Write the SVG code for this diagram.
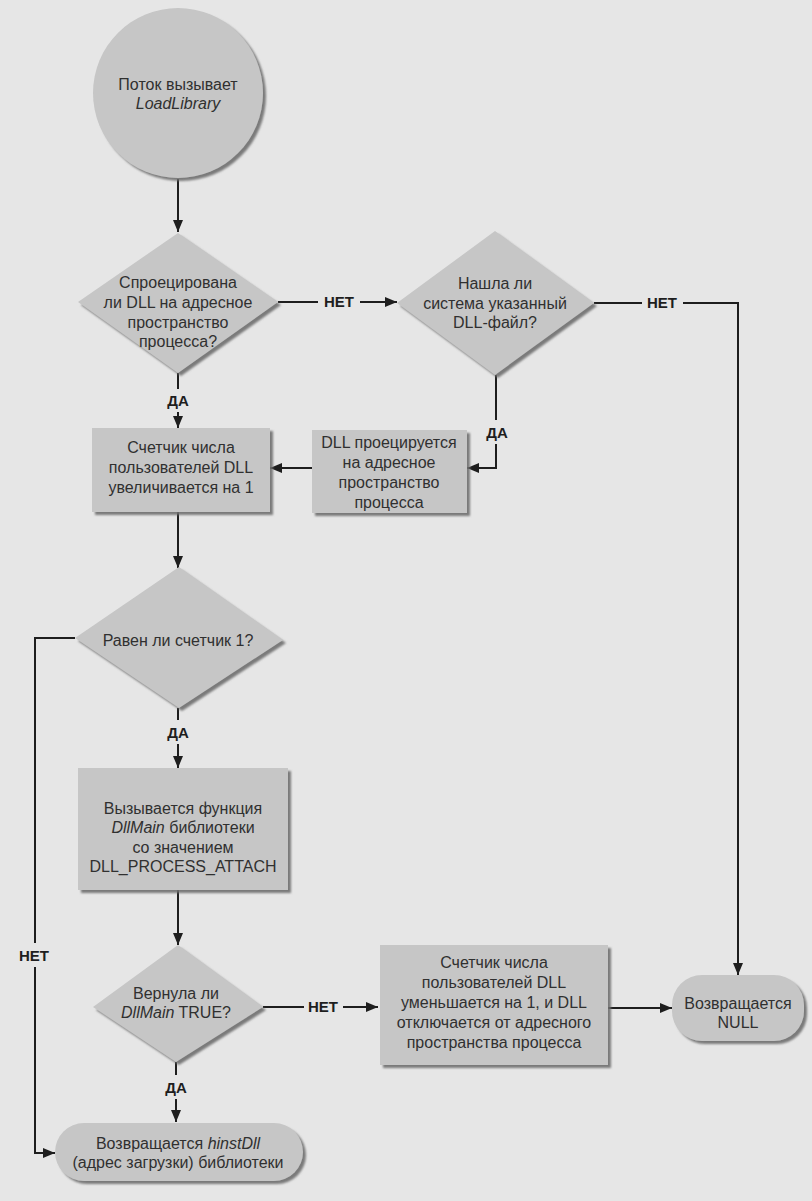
<svg xmlns="http://www.w3.org/2000/svg" width="812" height="1201" viewBox="0 0 812 1201">
<style>
.sh{fill:#c6c6c6;filter:url(#ds)}
.t{font-family:"Liberation Sans",Arial,sans-serif;font-size:16px;fill:#303030;text-anchor:middle}
.i{font-style:italic}
.lb{font-family:"Liberation Sans",Arial,sans-serif;font-size:15px;font-weight:bold;fill:#1e1e1e;text-anchor:middle}
.c{fill:none;stroke:#1e1e1e;stroke-width:2;marker-end:url(#ah)}
</style>
<defs>
<filter id="ds" x="-10%" y="-10%" width="130%" height="130%">
<feDropShadow dx="3" dy="3" stdDeviation="1.2" flood-color="#6e6e6e" flood-opacity="0.9"/>
</filter>
<marker id="ah" markerUnits="userSpaceOnUse" markerWidth="12" markerHeight="10" refX="12" refY="5" orient="auto">
<path d="M0,0 L12,5 L0,10 z" fill="#1e1e1e"/>
</marker>
</defs>
<rect width="812" height="1201" fill="#e6e6e6"/>

<g id="connectors">
<path class="c" d="M178,179 V232"/>
<path class="c" d="M278,302 H318 M360,302 H397"/>
<path class="c" d="M594,303 H642 M683,303 H738 V975"/>
<path class="c" d="M496,375 V420 M496,444 V468 H467"/>
<path class="c" d="M178,373 V389 M178,412 V428"/>
<path class="c" d="M312,468 H270"/>
<path class="c" d="M178,512 V568"/>
<path class="c" d="M75,638 H35 V943 M35,967 V1153 H55"/>
<path class="c" d="M178,708 V720 M178,744 V768"/>
<path class="c" d="M178,890 V945"/>
<path class="c" d="M263,1007 H304 M343,1007 H378"/>
<path class="c" d="M176,1062 V1075 M176,1099 V1122"/>
<path class="c" d="M608,1008 H672"/>
<text class="lb" x="339" y="307">НЕТ</text>
<text class="lb" x="662" y="308">НЕТ</text>
<text class="lb" x="497" y="438">ДА</text>
<text class="lb" x="178" y="406">ДА</text>
<text class="lb" x="34" y="961">НЕТ</text>
<text class="lb" x="178" y="738">ДА</text>
<text class="lb" x="323" y="1012">НЕТ</text>
<text class="lb" x="176" y="1093">ДА</text>
</g>

<g id="start">
<circle class="sh" cx="178" cy="93" r="85"/>
<text class="t" x="178" y="90">Поток вызывает</text>
<text class="t i" x="178" y="109">LoadLibrary</text>
</g>

<g id="d1">
<polygon class="sh" points="178,233 278,302 178,373 78,302"/>
<text class="t" x="178" y="288">Спроецирована</text>
<text class="t" x="178" y="308">ли DLL на адресное</text>
<text class="t" x="178" y="328">пространство</text>
<text class="t" x="178" y="347">процесса?</text>
</g>

<g id="d2">
<polygon class="sh" points="495,231 594,303 495,375 397,303"/>
<text class="t" x="495" y="289">Нашла ли</text>
<text class="t" x="495" y="309">система указанный</text>
<text class="t" x="495" y="328">DLL-файл?</text>
</g>

<g id="inc">
<rect class="sh" x="92" y="428" width="178" height="84"/>
<text class="t" x="181" y="453">Счетчик числа</text>
<text class="t" x="181" y="473">пользователей DLL</text>
<text class="t" x="181" y="493">увеличивается на 1</text>
</g>

<g id="map">
<rect class="sh" x="312" y="430" width="155" height="83"/>
<text class="t" x="389" y="448">DLL проецируется</text>
<text class="t" x="389" y="468">на адресное</text>
<text class="t" x="389" y="488">пространство</text>
<text class="t" x="389" y="508">процесса</text>
</g>

<g id="d3">
<polygon class="sh" points="179,567 283,640 179,708 75,638"/>
<text class="t" x="178" y="646">Равен ли счетчик 1?</text>
</g>

<g id="call">
<rect class="sh" x="78" y="768" width="210" height="122"/>
<text class="t" x="183" y="814">Вызывается функция</text>
<text class="t" x="183" y="833"><tspan class="i">DllMain</tspan> библиотеки</text>
<text class="t" x="183" y="853">со значением</text>
<text class="t" x="183" y="872">DLL_PROCESS_ATTACH</text>
</g>

<g id="d4">
<polygon class="sh" points="178,945 263,1007 176,1062 93,1007"/>
<text class="t" x="176" y="999">Вернула ли</text>
<text class="t" x="176" y="1018"><tspan class="i">DllMain</tspan> TRUE?</text>
</g>

<g id="ret">
<rect class="sh" x="55" y="1123" width="248" height="58" rx="29"/>
<text class="t" x="178" y="1149">Возвращается <tspan class="i">hinstDll</tspan></text>
<text class="t" x="178" y="1168">(адрес загрузки) библиотеки</text>
</g>

<g id="dec">
<rect class="sh" x="380" y="945" width="228" height="120"/>
<text class="t" x="494" y="968">Счетчик числа</text>
<text class="t" x="494" y="988">пользователей DLL</text>
<text class="t" x="494" y="1008">уменьшается на 1, и DLL</text>
<text class="t" x="494" y="1028">отключается от адресного</text>
<text class="t" x="494" y="1048">пространства процесса</text>
</g>

<g id="null">
<rect class="sh" x="672" y="975" width="132" height="66" rx="30"/>
<text class="t" x="738" y="1009">Возвращается</text>
<text class="t" x="738" y="1028">NULL</text>
</g>
</svg>
